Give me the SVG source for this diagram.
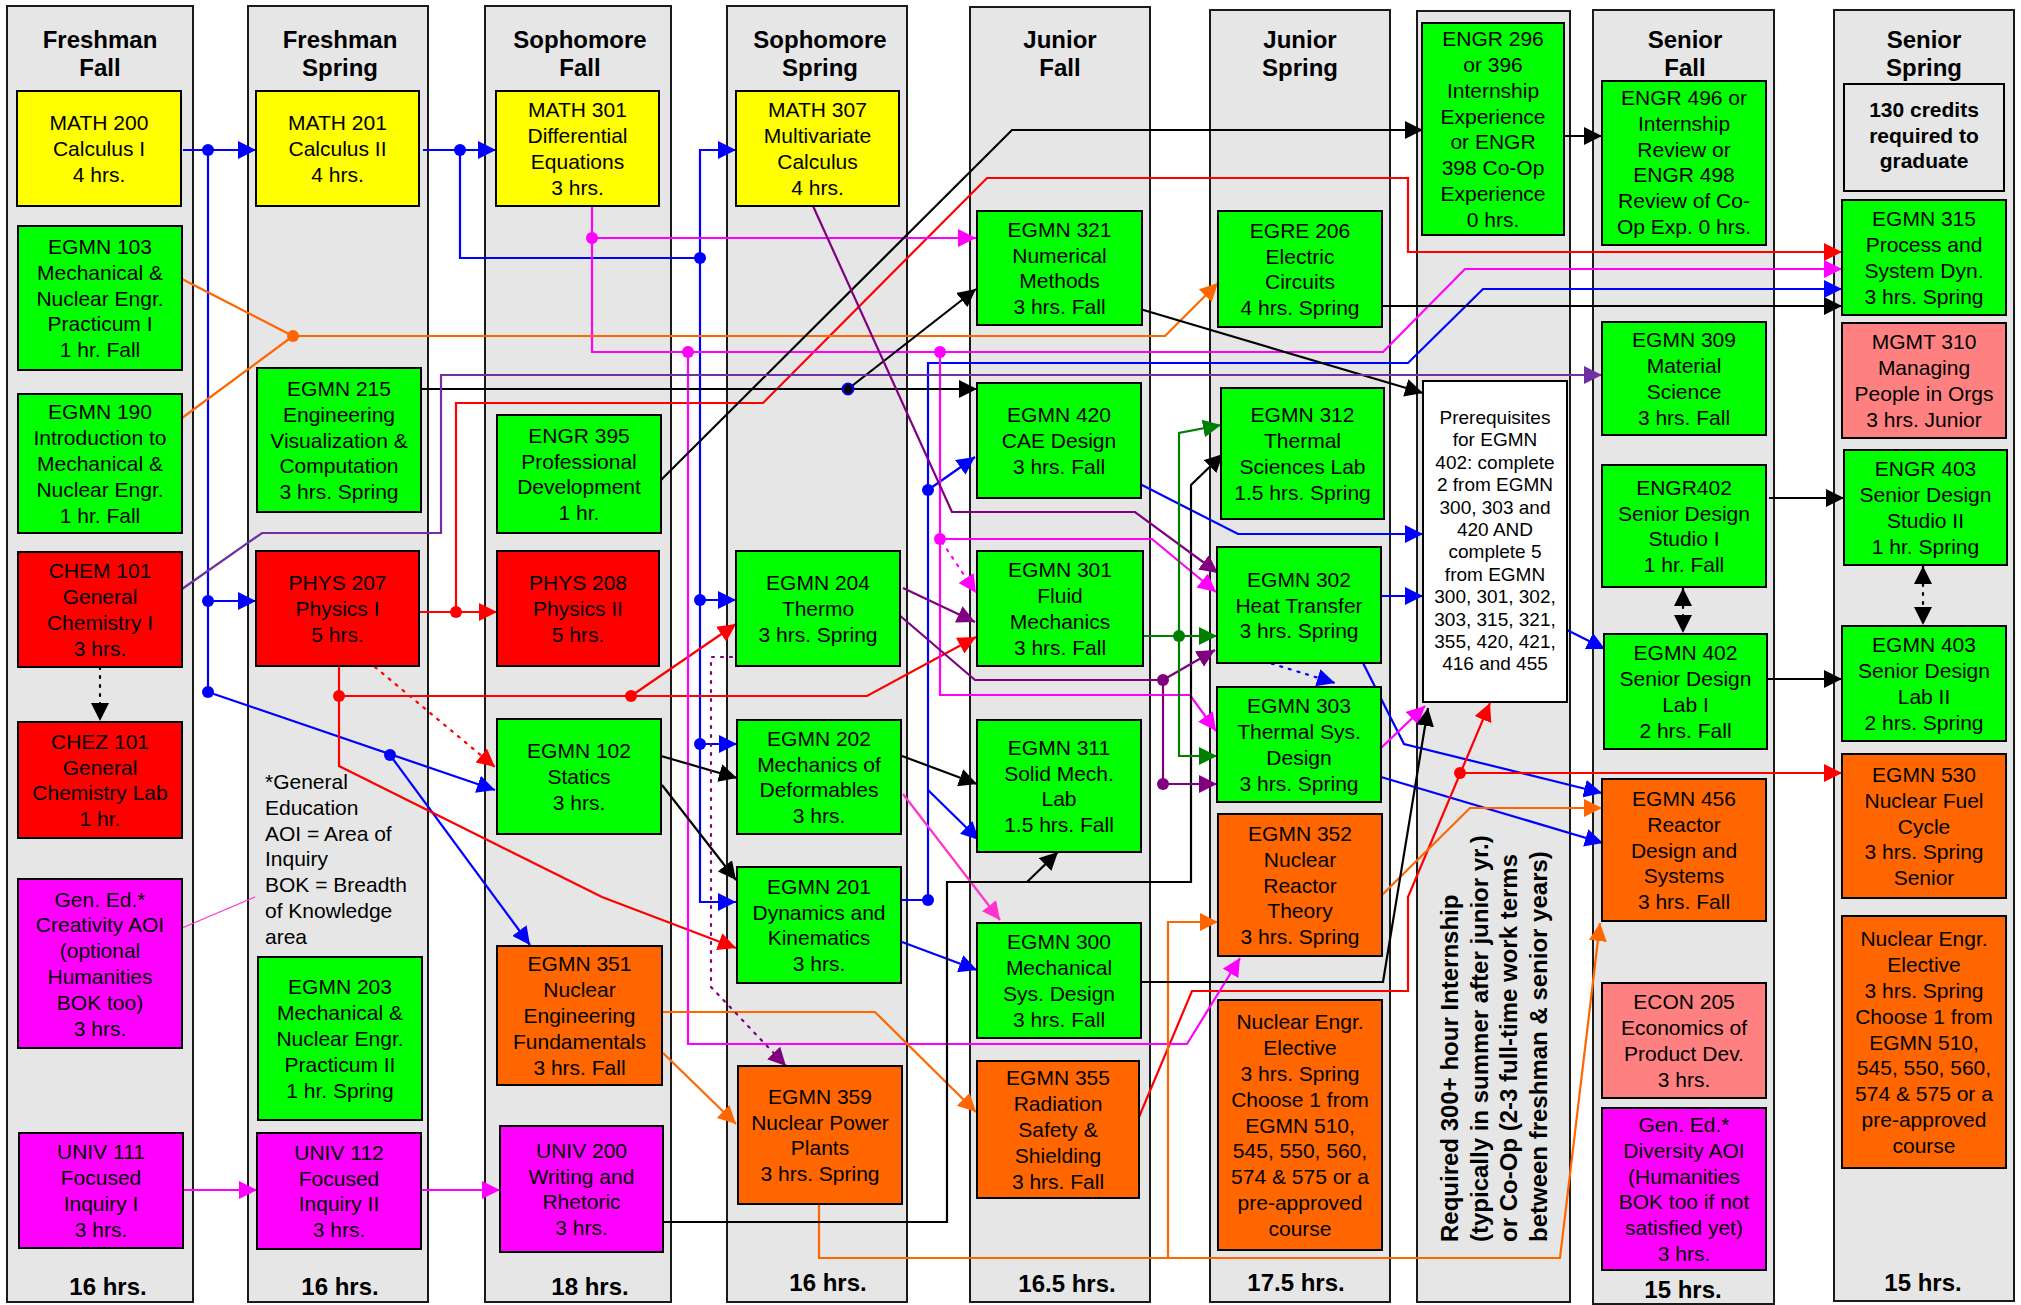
<svg xmlns="http://www.w3.org/2000/svg" width="2021" height="1305" viewBox="0 0 2021 1305">
<style>
.col{fill:#E6E6E6;stroke:#1a1a1a;stroke-width:2}
.n rect{stroke:#000;stroke-width:2}
.y{fill:#FFFF00}.g{fill:#00FF00}.r{fill:#FF0000}.o{fill:#FF6600}.m{fill:#FF00FF}.s{fill:#FF8080}.w{fill:#FFFFFF}.gr{fill:#E6E6E6}
text{font-family:"Liberation Sans",Arial,sans-serif;font-size:21px;text-anchor:middle;fill:#000}
.h{font-weight:bold;font-size:24px}
.bt{font-weight:bold}
.sm{font-size:19px}
.lf{text-anchor:start}
#conn path{fill:none;stroke-width:2.2}
.cb{stroke:#0000FF}.cr{stroke:#FF0000}.cm{stroke:#FF00FF}.cp{stroke:#FF33CC}.co{stroke:#FF6600}.ck{stroke:#000}.cu{stroke:#800080}.cv{stroke:#7030A0}.cg{stroke:#008000}
.dot{stroke-dasharray:2 7;stroke-linecap:round}
</style>
<defs>
<marker id="ab" viewBox="0 0 10 10" refX="10" refY="5" markerWidth="18" markerHeight="18" markerUnits="userSpaceOnUse" orient="auto"><path d="M0,0L10,5L0,10z" fill="#0000FF"/></marker>
<marker id="ar" viewBox="0 0 10 10" refX="10" refY="5" markerWidth="18" markerHeight="18" markerUnits="userSpaceOnUse" orient="auto"><path d="M0,0L10,5L0,10z" fill="#FF0000"/></marker>
<marker id="am" viewBox="0 0 10 10" refX="10" refY="5" markerWidth="18" markerHeight="18" markerUnits="userSpaceOnUse" orient="auto"><path d="M0,0L10,5L0,10z" fill="#FF00FF"/></marker>
<marker id="ap" viewBox="0 0 10 10" refX="10" refY="5" markerWidth="18" markerHeight="18" markerUnits="userSpaceOnUse" orient="auto"><path d="M0,0L10,5L0,10z" fill="#FF33CC"/></marker>
<marker id="ao" viewBox="0 0 10 10" refX="10" refY="5" markerWidth="18" markerHeight="18" markerUnits="userSpaceOnUse" orient="auto"><path d="M0,0L10,5L0,10z" fill="#FF6600"/></marker>
<marker id="ak" viewBox="0 0 10 10" refX="10" refY="5" markerWidth="18" markerHeight="18" markerUnits="userSpaceOnUse" orient="auto-start-reverse"><path d="M0,0L10,5L0,10z" fill="#000"/></marker>
<marker id="au" viewBox="0 0 10 10" refX="10" refY="5" markerWidth="18" markerHeight="18" markerUnits="userSpaceOnUse" orient="auto"><path d="M0,0L10,5L0,10z" fill="#800080"/></marker>
<marker id="av" viewBox="0 0 10 10" refX="10" refY="5" markerWidth="18" markerHeight="18" markerUnits="userSpaceOnUse" orient="auto"><path d="M0,0L10,5L0,10z" fill="#7030A0"/></marker>
<marker id="ag" viewBox="0 0 10 10" refX="10" refY="5" markerWidth="18" markerHeight="18" markerUnits="userSpaceOnUse" orient="auto"><path d="M0,0L10,5L0,10z" fill="#008000"/></marker>
</defs>
<rect width="2021" height="1305" fill="#fff"/>
<g id="columns">
<rect class="col" x="7" y="6" width="186" height="1296"/>
<rect class="col" x="248" y="6" width="180" height="1296"/>
<rect class="col" x="485" y="6" width="186" height="1296"/>
<rect class="col" x="727" y="6" width="180" height="1296"/>
<rect class="col" x="970" y="7" width="180" height="1295"/>
<rect class="col" x="1210" y="10" width="180" height="1292"/>
<rect class="col" x="1417" y="11" width="153" height="1291"/>
<rect class="col" x="1593" y="10" width="181" height="1294"/>
<rect class="col" x="1834" y="10" width="180" height="1291"/>
<text class="h" x="100" y="48">Freshman<tspan x="100" dy="28">Fall</tspan></text>
<text class="h" x="340" y="48">Freshman<tspan x="340" dy="28">Spring</tspan></text>
<text class="h" x="580" y="48">Sophomore<tspan x="580" dy="28">Fall</tspan></text>
<text class="h" x="820" y="48">Sophomore<tspan x="820" dy="28">Spring</tspan></text>
<text class="h" x="1060" y="48">Junior<tspan x="1060" dy="28">Fall</tspan></text>
<text class="h" x="1300" y="48">Junior<tspan x="1300" dy="28">Spring</tspan></text>
<text class="h" x="1685" y="48">Senior<tspan x="1685" dy="28">Fall</tspan></text>
<text class="h" x="1924" y="48">Senior<tspan x="1924" dy="28">Spring</tspan></text>
<text class="h" x="108" y="1295">16 hrs.</text>
<text class="h" x="340" y="1295">16 hrs.</text>
<text class="h" x="590" y="1295">18 hrs.</text>
<text class="h" x="828" y="1291">16 hrs.</text>
<text class="h" x="1067" y="1292">16.5 hrs.</text>
<text class="h" x="1296" y="1291">17.5 hrs.</text>
<text class="h" x="1683" y="1298">15 hrs.</text>
<text class="h" x="1923" y="1291">15 hrs.</text>
<text class="lf" x="265" y="789">*General<tspan x="265" dy="25.8">Education</tspan><tspan x="265" dy="25.8">AOI = Area of</tspan><tspan x="265" dy="25.8">Inquiry</tspan><tspan x="265" dy="25.8">BOK = Breadth</tspan><tspan x="265" dy="25.8">of Knowledge</tspan><tspan x="265" dy="25.8">area</tspan></text>
<g class="bt">
<text style="text-anchor:start;font-weight:bold;font-size:24px" transform="translate(1458,1242) rotate(-90)">Required 300+ hour Internship</text>
<text style="text-anchor:start;font-weight:bold;font-size:24px" transform="translate(1488,1242) rotate(-90)">(typically in summer after junior yr.)</text>
<text style="text-anchor:start;font-weight:bold;font-size:24px" transform="translate(1517,1242) rotate(-90)">or Co-Op (2-3 full-time work terms</text>
<text style="text-anchor:start;font-weight:bold;font-size:24px" transform="translate(1547,1242) rotate(-90)">between freshman &amp; senior years)</text>
</g>
</g>
<g id="conn">
<path class="cb" d="M183,150L256,150" marker-end="url(#ab)"/>
<path class="cb" d="M208,150L208,692"/>
<path class="cb" d="M208,601L256,601" marker-end="url(#ab)"/>
<path class="cb" d="M208,692L495,790" marker-end="url(#ab)"/>
<path class="cb" d="M390,755L530,945" marker-end="url(#ab)"/>
<path class="cb" d="M423,150L496,150" marker-end="url(#ab)"/>
<path class="cb" d="M460,150L460,258L700,258"/>
<path class="cb" d="M700,258L700,150L736,150" marker-end="url(#ab)"/>
<path class="cb" d="M700,258L700,902L736,902" marker-end="url(#ab)"/>
<path class="cb" d="M700,600L736,600" marker-end="url(#ab)"/>
<path class="cb" d="M700,744L737,744" marker-end="url(#ab)"/>
<path class="cb" d="M901,900L928,900L928,363L1408,363L1483,289L1842,289" marker-end="url(#ab)"/>
<path class="cb" d="M928,490L975,457" marker-end="url(#ab)"/>
<path class="cb" d="M928,790L979,840" marker-end="url(#ab)"/>
<path class="cb" d="M902,942L977,970" marker-end="url(#ab)"/>
<path class="cb" d="M1140,484L1238,534L1423,534" marker-end="url(#ab)"/>
<path class="cb" d="M1378,596L1423,596" marker-end="url(#ab)"/>
<path class="cb dot" d="M1263,661L1335,683" marker-end="url(#ab)"/>
<path class="cb" d="M1363,663L1404,744L1602,793" marker-end="url(#ab)"/>
<path class="cb" d="M1381,777L1603,843" marker-end="url(#ab)"/>
<path class="cb" d="M1567,630L1605,649" marker-end="url(#ab)"/>
<path class="cr" d="M419,612L497,612" marker-end="url(#ar)"/>
<path class="cr" d="M456,612L456,403L763,403L987,178L1408,178L1408,252L1842,252" marker-end="url(#ar)"/>
<path class="cr" d="M339,667L339,766L602,897L736,948" marker-end="url(#ar)"/>
<path class="cr" d="M339,696L867,696L976,637" marker-end="url(#ar)"/>
<path class="cr" d="M631,696L736,624" marker-end="url(#ar)"/>
<path class="cr dot" d="M375,667L495,767" marker-end="url(#ar)"/>
<path class="cr" d="M1139,1117L1192,991L1408,991L1408,897L1490,703" marker-end="url(#ar)"/>
<path class="cr" d="M1460,773L1842,773" marker-end="url(#ar)"/>
<path class="cm" d="M183,1190L257,1190" marker-end="url(#am)"/>
<path class="cm" d="M421,1190L500,1190" marker-end="url(#am)"/>
<path class="cp" style="stroke-width:1.3" d="M182,928L255,897"/>
<path class="cm" d="M592,206L592,352L1383,352L1465,269L1842,269" marker-end="url(#am)"/>
<path class="cm" d="M592,238L976,238" marker-end="url(#am)"/>
<path class="cm" d="M688,352L688,1044L1187,1044L1240,958" marker-end="url(#am)"/>
<path class="cm" d="M940,352L940,695L1190,695L1216,731" marker-end="url(#am)"/>
<path class="cm" d="M940,539L1152,539L1216,592" marker-end="url(#am)"/>
<path class="cm dot" d="M942,542L976,593" marker-end="url(#am)"/>
<path class="cm" d="M1381,748L1425,706" marker-end="url(#am)"/>
<path class="cp" d="M903,794L1000,920" marker-end="url(#ap)"/>
<path class="co" d="M182,279L293,336M182,418L293,336"/>
<path class="co" d="M293,336L1165,336L1218,283" marker-end="url(#ao)"/>
<path class="co" d="M662,1012L875,1012L976,1112" marker-end="url(#ao)"/>
<path class="co" d="M663,1053L736,1124" marker-end="url(#ao)"/>
<path class="co" d="M819,1204L819,1258L1560,1258L1600,923" marker-end="url(#ao)"/>
<path class="co" d="M1168,1258L1168,922L1218,922" marker-end="url(#ao)"/>
<path class="co" d="M1382,895L1470,808L1602,808" marker-end="url(#ao)"/>
<path class="ck dot" d="M100,667L100,721" marker-end="url(#ak)"/>
<path class="ck" d="M661,480L1012,130L1423,130" marker-end="url(#ak)"/>
<path class="ck" d="M421,389L977,389" marker-end="url(#ak)"/>
<path class="ck" d="M848,389L976,289" marker-end="url(#ak)"/>
<path class="ck" d="M1140,309L1423,393" marker-end="url(#ak)"/>
<path class="ck" d="M1381,306L1842,306" marker-end="url(#ak)"/>
<path class="ck" d="M661,756L737,778" marker-end="url(#ak)"/>
<path class="ck" d="M662,785L736,880" marker-end="url(#ak)"/>
<path class="ck" d="M902,756L977,784" marker-end="url(#ak)"/>
<path class="ck" d="M663,1222L947,1222L947,882L1191,882L1191,485L1223,454" marker-end="url(#ak)"/>
<path class="ck" d="M1027,882L1058,852" marker-end="url(#ak)"/>
<path class="ck" d="M1138,982L1383,982L1428,708" marker-end="url(#ak)"/>
<path class="ck" d="M1564,136L1602,136" marker-end="url(#ak)"/>
<path class="ck" d="M1769,498L1844,498" marker-end="url(#ak)"/>
<path class="ck" d="M1767,679L1842,679" marker-end="url(#ak)"/>
<path class="ck dot" d="M1683,588L1683,633" marker-start="url(#ak)" marker-end="url(#ak)"/>
<path class="ck dot" d="M1923,566L1923,625" marker-start="url(#ak)" marker-end="url(#ak)"/>
<path class="cv" d="M182,589L262,533L441,533L441,375L1602,375" marker-end="url(#av)"/>
<path class="cu" d="M813,206L952,512L1135,512L1218,573" marker-end="url(#au)"/>
<path class="cu" d="M903,588L975,622" marker-end="url(#au)"/>
<path class="cu" d="M898,614L975,680L1163,680"/>
<path class="cu" d="M1163,680L1215,650" marker-end="url(#au)"/>
<path class="cu" d="M1163,680L1163,784L1217,784" marker-end="url(#au)"/>
<path class="cu dot" d="M732,657L711,657L711,987L786,1066" marker-end="url(#au)"/>
<path class="cg" d="M1143,636L1217,636" marker-end="url(#ag)"/>
<path class="cg" d="M1179,636L1179,433L1221,425" marker-end="url(#ag)"/>
<path class="cg" d="M1179,636L1179,756L1217,756" marker-end="url(#ag)"/>
<g fill="#0000FF">
<circle cx="208" cy="150" r="6"/><circle cx="208" cy="601" r="6"/><circle cx="208" cy="692" r="6"/><circle cx="390" cy="755" r="6"/><circle cx="460" cy="150" r="6"/><circle cx="700" cy="258" r="6"/><circle cx="700" cy="600" r="6"/><circle cx="700" cy="744" r="6"/><circle cx="928" cy="900" r="6"/><circle cx="928" cy="490" r="6"/>
</g>
<g fill="#FF0000"><circle cx="456" cy="612" r="6"/><circle cx="339" cy="696" r="6"/><circle cx="631" cy="696" r="6"/><circle cx="1460" cy="773" r="6"/></g>
<g fill="#FF00FF"><circle cx="592" cy="238" r="6"/><circle cx="688" cy="352" r="6"/><circle cx="940" cy="352" r="6"/><circle cx="940" cy="539" r="6"/></g>
<circle cx="293" cy="336" r="6" fill="#FF6600"/>
<circle cx="848" cy="389" r="5.5" fill="#000" stroke="#0000FF" stroke-width="2"/>
<g fill="#800080"><circle cx="1163" cy="680" r="6"/><circle cx="1163" cy="784" r="6"/></g>
<circle cx="1179" cy="636" r="6" fill="#008000"/>
</g>
<g id="n1" class="n"><rect class="y" x="17" y="91" width="164" height="115"/><text x="99" y="130.2">MATH 200<tspan x="99" dy="25.8">Calculus I</tspan><tspan x="99" dy="25.8">4 hrs.</tspan></text></g>
<g id="n2" class="n"><rect class="g" x="18" y="226" width="164" height="144"/><text x="100" y="253.9">EGMN 103<tspan x="100" dy="25.8">Mechanical &amp;</tspan><tspan x="100" dy="25.8">Nuclear Engr.</tspan><tspan x="100" dy="25.8">Practicum I</tspan><tspan x="100" dy="25.8">1 hr. Fall</tspan></text></g>
<g id="n3" class="n"><rect class="g" x="18" y="394" width="164" height="139"/><text x="100" y="419.4">EGMN 190<tspan x="100" dy="25.8">Introduction to</tspan><tspan x="100" dy="25.8">Mechanical &amp;</tspan><tspan x="100" dy="25.8">Nuclear Engr.</tspan><tspan x="100" dy="25.8">1 hr. Fall</tspan></text></g>
<g id="n4" class="n"><rect class="r" x="18" y="552" width="164" height="115"/><text x="100" y="578.3">CHEM 101<tspan x="100" dy="25.8">General</tspan><tspan x="100" dy="25.8">Chemistry I</tspan><tspan x="100" dy="25.8">3 hrs.</tspan></text></g>
<g id="n5" class="n"><rect class="r" x="18" y="722" width="164" height="116"/><text x="100" y="748.8">CHEZ 101<tspan x="100" dy="25.8">General</tspan><tspan x="100" dy="25.8">Chemistry Lab</tspan><tspan x="100" dy="25.8">1 hr.</tspan></text></g>
<g id="n6" class="n"><rect class="m" x="18" y="879" width="164" height="169"/><text x="100" y="906.5">Gen. Ed.*<tspan x="100" dy="25.8">Creativity AOI</tspan><tspan x="100" dy="25.8">(optional</tspan><tspan x="100" dy="25.8">Humanities</tspan><tspan x="100" dy="25.8">BOK too)</tspan><tspan x="100" dy="25.8">3 hrs.</tspan></text></g>
<g id="n7" class="n"><rect class="m" x="19" y="1133" width="164" height="115"/><text x="101" y="1159.3">UNIV 111<tspan x="101" dy="25.8">Focused</tspan><tspan x="101" dy="25.8">Inquiry I</tspan><tspan x="101" dy="25.8">3 hrs.</tspan></text></g>
<g id="n8" class="n"><rect class="y" x="256" y="91" width="163" height="115"/><text x="337.5" y="130.2">MATH 201<tspan x="337.5" dy="25.8">Calculus II</tspan><tspan x="337.5" dy="25.8">4 hrs.</tspan></text></g>
<g id="n9" class="n"><rect class="g" x="257" y="368" width="164" height="144"/><text x="339" y="395.9">EGMN 215<tspan x="339" dy="25.8">Engineering</tspan><tspan x="339" dy="25.8">Visualization &amp;</tspan><tspan x="339" dy="25.8">Computation</tspan><tspan x="339" dy="25.8">3 hrs. Spring</tspan></text></g>
<g id="n10" class="n"><rect class="r" x="256" y="551" width="163" height="115"/><text x="337.5" y="590.2">PHYS 207<tspan x="337.5" dy="25.8">Physics I</tspan><tspan x="337.5" dy="25.8">5 hrs.</tspan></text></g>
<g id="n11" class="n"><rect class="g" x="258" y="957" width="164" height="163"/><text x="340" y="994.4">EGMN 203<tspan x="340" dy="25.8">Mechanical &amp;</tspan><tspan x="340" dy="25.8">Nuclear Engr.</tspan><tspan x="340" dy="25.8">Practicum II</tspan><tspan x="340" dy="25.8">1 hr. Spring</tspan></text></g>
<g id="n12" class="n"><rect class="m" x="257" y="1133" width="164" height="116"/><text x="339" y="1159.8">UNIV 112<tspan x="339" dy="25.8">Focused</tspan><tspan x="339" dy="25.8">Inquiry II</tspan><tspan x="339" dy="25.8">3 hrs.</tspan></text></g>
<g id="n13" class="n"><rect class="y" x="496" y="91" width="163" height="115"/><text x="577.5" y="117.3">MATH 301<tspan x="577.5" dy="25.8">Differential</tspan><tspan x="577.5" dy="25.8">Equations</tspan><tspan x="577.5" dy="25.8">3 hrs.</tspan></text></g>
<g id="n14" class="n"><rect class="g" x="497" y="415" width="164" height="118"/><text x="579" y="442.8">ENGR 395<tspan x="579" dy="25.8">Professional</tspan><tspan x="579" dy="25.8">Development</tspan><tspan x="579" dy="25.8">1 hr.</tspan></text></g>
<g id="n15" class="n"><rect class="r" x="497" y="551" width="162" height="115"/><text x="578" y="590.2">PHYS 208<tspan x="578" dy="25.8">Physics II</tspan><tspan x="578" dy="25.8">5 hrs.</tspan></text></g>
<g id="n16" class="n"><rect class="g" x="497" y="719" width="164" height="115"/><text x="579" y="758.2">EGMN 102<tspan x="579" dy="25.8">Statics</tspan><tspan x="579" dy="25.8">3 hrs.</tspan></text></g>
<g id="n17" class="n"><rect class="o" x="497" y="946" width="165" height="139"/><text x="579.5" y="971.4">EGMN 351<tspan x="579.5" dy="25.8">Nuclear</tspan><tspan x="579.5" dy="25.8">Engineering</tspan><tspan x="579.5" dy="25.8">Fundamentals</tspan><tspan x="579.5" dy="25.8">3 hrs. Fall</tspan></text></g>
<g id="n18" class="n"><rect class="m" x="500" y="1126" width="163" height="126"/><text x="581.5" y="1157.8">UNIV 200<tspan x="581.5" dy="25.8">Writing and</tspan><tspan x="581.5" dy="25.8">Rhetoric</tspan><tspan x="581.5" dy="25.8">3 hrs.</tspan></text></g>
<g id="n19" class="n"><rect class="y" x="736" y="91" width="163" height="115"/><text x="817.5" y="117.3">MATH 307<tspan x="817.5" dy="25.8">Multivariate</tspan><tspan x="817.5" dy="25.8">Calculus</tspan><tspan x="817.5" dy="25.8">4 hrs.</tspan></text></g>
<g id="n20" class="n"><rect class="g" x="736" y="551" width="164" height="115"/><text x="818" y="590.2">EGMN 204<tspan x="818" dy="25.8">Thermo</tspan><tspan x="818" dy="25.8">3 hrs. Spring</tspan></text></g>
<g id="n21" class="n"><rect class="g" x="737" y="720" width="164" height="114"/><text x="819" y="745.8">EGMN 202<tspan x="819" dy="25.8">Mechanics of</tspan><tspan x="819" dy="25.8">Deformables</tspan><tspan x="819" dy="25.8">3 hrs.</tspan></text></g>
<g id="n22" class="n"><rect class="g" x="737" y="867" width="164" height="116"/><text x="819" y="893.8">EGMN 201<tspan x="819" dy="25.8">Dynamics and</tspan><tspan x="819" dy="25.8">Kinematics</tspan><tspan x="819" dy="25.8">3 hrs.</tspan></text></g>
<g id="n23" class="n"><rect class="o" x="738" y="1066" width="164" height="138"/><text x="820" y="1103.8">EGMN 359<tspan x="820" dy="25.8">Nuclear Power</tspan><tspan x="820" dy="25.8">Plants</tspan><tspan x="820" dy="25.8">3 hrs. Spring</tspan></text></g>
<g id="n24" class="n"><rect class="g" x="977" y="211" width="165" height="114"/><text x="1059.5" y="236.8">EGMN 321<tspan x="1059.5" dy="25.8">Numerical</tspan><tspan x="1059.5" dy="25.8">Methods</tspan><tspan x="1059.5" dy="25.8">3 hrs. Fall</tspan></text></g>
<g id="n25" class="n"><rect class="g" x="977" y="383" width="164" height="115"/><text x="1059" y="422.2">EGMN 420<tspan x="1059" dy="25.8">CAE Design</tspan><tspan x="1059" dy="25.8">3 hrs. Fall</tspan></text></g>
<g id="n26" class="n"><rect class="g" x="977" y="551" width="166" height="115"/><text x="1060" y="577.3">EGMN 301<tspan x="1060" dy="25.8">Fluid</tspan><tspan x="1060" dy="25.8">Mechanics</tspan><tspan x="1060" dy="25.8">3 hrs. Fall</tspan></text></g>
<g id="n27" class="n"><rect class="g" x="977" y="720" width="164" height="132"/><text x="1059" y="754.8">EGMN 311<tspan x="1059" dy="25.8">Solid Mech.</tspan><tspan x="1059" dy="25.8">Lab</tspan><tspan x="1059" dy="25.8">1.5 hrs. Fall</tspan></text></g>
<g id="n28" class="n"><rect class="g" x="977" y="923" width="164" height="115"/><text x="1059" y="949.3">EGMN 300<tspan x="1059" dy="25.8">Mechanical</tspan><tspan x="1059" dy="25.8">Sys. Design</tspan><tspan x="1059" dy="25.8">3 hrs.  Fall</tspan></text></g>
<g id="n29" class="n"><rect class="o" x="977" y="1061" width="162" height="137"/><text x="1058" y="1085.4">EGMN 355<tspan x="1058" dy="25.8">Radiation</tspan><tspan x="1058" dy="25.8">Safety &amp;</tspan><tspan x="1058" dy="25.8">Shielding</tspan><tspan x="1058" dy="25.8">3 hrs. Fall</tspan></text></g>
<g id="n30" class="n"><rect class="g" x="1218" y="211" width="164" height="116"/><text x="1300" y="237.8">EGRE 206<tspan x="1300" dy="25.8">Electric</tspan><tspan x="1300" dy="25.8">Circuits</tspan><tspan x="1300" dy="25.8">4 hrs. Spring</tspan></text></g>
<g id="n31" class="n"><rect class="g" x="1221" y="388" width="163" height="131"/><text x="1302.5" y="422.3">EGMN 312<tspan x="1302.5" dy="25.8">Thermal</tspan><tspan x="1302.5" dy="25.8">Sciences Lab</tspan><tspan x="1302.5" dy="25.8">1.5 hrs. Spring</tspan></text></g>
<g id="n32" class="n"><rect class="g" x="1217" y="547" width="164" height="116"/><text x="1299" y="586.7">EGMN 302<tspan x="1299" dy="25.8">Heat Transfer</tspan><tspan x="1299" dy="25.8">3 hrs. Spring</tspan></text></g>
<g id="n33" class="n"><rect class="g" x="1217" y="687" width="164" height="115"/><text x="1299" y="713.3">EGMN 303<tspan x="1299" dy="25.8">Thermal Sys.</tspan><tspan x="1299" dy="25.8">Design</tspan><tspan x="1299" dy="25.8">3 hrs. Spring</tspan></text></g>
<g id="n34" class="n"><rect class="o" x="1218" y="814" width="164" height="142"/><text x="1300" y="840.9">EGMN 352<tspan x="1300" dy="25.8">Nuclear</tspan><tspan x="1300" dy="25.8">Reactor</tspan><tspan x="1300" dy="25.8">Theory</tspan><tspan x="1300" dy="25.8">3 hrs. Spring</tspan></text></g>
<g id="n35" class="n"><rect class="o" x="1218" y="1000" width="164" height="250"/><text x="1300" y="1029.3">Nuclear Engr.<tspan x="1300" dy="25.8">Elective</tspan><tspan x="1300" dy="25.8">3 hrs. Spring</tspan><tspan x="1300" dy="25.8">Choose 1 from</tspan><tspan x="1300" dy="25.8">EGMN 510,</tspan><tspan x="1300" dy="25.8">545, 550, 560,</tspan><tspan x="1300" dy="25.8">574 &amp; 575 or a</tspan><tspan x="1300" dy="25.8">pre-approved</tspan><tspan x="1300" dy="25.8">course</tspan></text></g>
<g id="n36" class="n"><rect class="g" x="1422" y="23" width="142" height="212"/><text x="1493" y="46.2">ENGR 296<tspan x="1493" dy="25.8">or 396</tspan><tspan x="1493" dy="25.8">Internship</tspan><tspan x="1493" dy="25.8">Experience</tspan><tspan x="1493" dy="25.8">or  ENGR</tspan><tspan x="1493" dy="25.8">398 Co-Op</tspan><tspan x="1493" dy="25.8">Experience</tspan><tspan x="1493" dy="25.8">0 hrs.</tspan></text></g>
<g id="n37" class="n"><rect class="w" x="1423" y="381" width="144" height="321"/><text class="sm" x="1495" y="424">Prerequisites<tspan x="1495" dy="22.4">for EGMN</tspan><tspan x="1495" dy="22.4">402: complete</tspan><tspan x="1495" dy="22.4">2 from EGMN</tspan><tspan x="1495" dy="22.4">300, 303 and</tspan><tspan x="1495" dy="22.4">420 AND</tspan><tspan x="1495" dy="22.4">complete 5</tspan><tspan x="1495" dy="22.4">from EGMN</tspan><tspan x="1495" dy="22.4">300, 301, 302,</tspan><tspan x="1495" dy="22.4">303, 315, 321,</tspan><tspan x="1495" dy="22.4">355, 420, 421,</tspan><tspan x="1495" dy="22.4">416 and 455</tspan></text></g>
<g id="n38" class="n"><rect class="g" x="1602" y="81" width="164" height="164"/><text x="1684" y="105">ENGR 496 or<tspan x="1684" dy="25.8">Internship</tspan><tspan x="1684" dy="25.8">Review or</tspan><tspan x="1684" dy="25.8">ENGR 498</tspan><tspan x="1684" dy="25.8">Review of Co-</tspan><tspan x="1684" dy="25.8">Op Exp. 0 hrs.</tspan></text></g>
<g id="n39" class="n"><rect class="g" x="1602" y="322" width="164" height="113"/><text x="1684" y="347.3">EGMN 309<tspan x="1684" dy="25.8">Material</tspan><tspan x="1684" dy="25.8">Science</tspan><tspan x="1684" dy="25.8">3 hrs. Fall</tspan></text></g>
<g id="n40" class="n"><rect class="g" x="1602" y="465" width="164" height="122"/><text x="1684" y="494.8">ENGR402<tspan x="1684" dy="25.8">Senior Design</tspan><tspan x="1684" dy="25.8">Studio I</tspan><tspan x="1684" dy="25.8">1 hr. Fall</tspan></text></g>
<g id="n41" class="n"><rect class="g" x="1604" y="634" width="163" height="115"/><text x="1685.5" y="660.3">EGMN 402<tspan x="1685.5" dy="25.8">Senior Design</tspan><tspan x="1685.5" dy="25.8">Lab I</tspan><tspan x="1685.5" dy="25.8">2 hrs. Fall</tspan></text></g>
<g id="n42" class="n"><rect class="o" x="1602" y="779" width="164" height="142"/><text x="1684" y="805.9">EGMN 456<tspan x="1684" dy="25.8">Reactor</tspan><tspan x="1684" dy="25.8">Design and</tspan><tspan x="1684" dy="25.8">Systems</tspan><tspan x="1684" dy="25.8">3 hrs. Fall</tspan></text></g>
<g id="n43" class="n"><rect class="s" x="1602" y="983" width="164" height="115"/><text x="1684" y="1009.3">ECON 205<tspan x="1684" dy="25.8">Economics of</tspan><tspan x="1684" dy="25.8">Product Dev.</tspan><tspan x="1684" dy="25.8">3 hrs.</tspan></text></g>
<g id="n44" class="n"><rect class="m" x="1602" y="1108" width="164" height="162"/><text x="1684" y="1132">Gen. Ed.*<tspan x="1684" dy="25.8">Diversity AOI</tspan><tspan x="1684" dy="25.8">(Humanities</tspan><tspan x="1684" dy="25.8">BOK too if not</tspan><tspan x="1684" dy="25.8">satisfied yet)</tspan><tspan x="1684" dy="25.8">3 hrs.</tspan></text></g>
<g id="n45" class="n"><rect class="gr" x="1844" y="84" width="160" height="107"/><text class="bt" x="1924" y="117">130 credits<tspan x="1924" dy="25.7">required to</tspan><tspan x="1924" dy="25.7">graduate</tspan></text></g>
<g id="n46" class="n"><rect class="g" x="1842" y="200" width="164" height="115"/><text x="1924" y="226.3">EGMN 315<tspan x="1924" dy="25.8">Process and</tspan><tspan x="1924" dy="25.8">System Dyn.</tspan><tspan x="1924" dy="25.8">3 hrs. Spring</tspan></text></g>
<g id="n47" class="n"><rect class="s" x="1842" y="323" width="164" height="115"/><text x="1924" y="349.3">MGMT 310<tspan x="1924" dy="25.8">Managing</tspan><tspan x="1924" dy="25.8">People in Orgs</tspan><tspan x="1924" dy="25.8">3 hrs.  Junior</tspan></text></g>
<g id="n48" class="n"><rect class="g" x="1844" y="450" width="163" height="115"/><text x="1925.5" y="476.3">ENGR 403<tspan x="1925.5" dy="25.8">Senior Design</tspan><tspan x="1925.5" dy="25.8">Studio II</tspan><tspan x="1925.5" dy="25.8">1 hr. Spring</tspan></text></g>
<g id="n49" class="n"><rect class="g" x="1842" y="626" width="164" height="115"/><text x="1924" y="652.3">EGMN 403<tspan x="1924" dy="25.8">Senior Design</tspan><tspan x="1924" dy="25.8">Lab II</tspan><tspan x="1924" dy="25.8">2 hrs. Spring</tspan></text></g>
<g id="n50" class="n"><rect class="o" x="1842" y="754" width="164" height="144"/><text x="1924" y="781.9">EGMN 530<tspan x="1924" dy="25.8">Nuclear Fuel</tspan><tspan x="1924" dy="25.8">Cycle</tspan><tspan x="1924" dy="25.8">3 hrs. Spring</tspan><tspan x="1924" dy="25.8">Senior</tspan></text></g>
<g id="n51" class="n"><rect class="o" x="1842" y="916" width="164" height="252"/><text x="1924" y="946.3">Nuclear Engr.<tspan x="1924" dy="25.8">Elective</tspan><tspan x="1924" dy="25.8">3 hrs. Spring</tspan><tspan x="1924" dy="25.8">Choose 1 from</tspan><tspan x="1924" dy="25.8">EGMN 510,</tspan><tspan x="1924" dy="25.8">545, 550, 560,</tspan><tspan x="1924" dy="25.8">574 &amp; 575 or a</tspan><tspan x="1924" dy="25.8">pre-approved</tspan><tspan x="1924" dy="25.8">course</tspan></text></g>
</svg>
